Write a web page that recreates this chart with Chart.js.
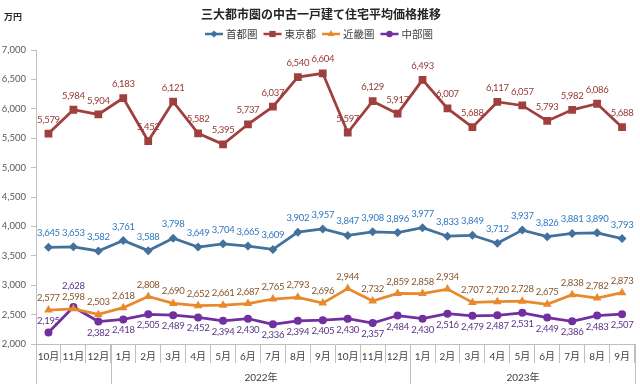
<!DOCTYPE html>
<html>
<head>
<meta charset="utf-8">
<script src="https://cdn.jsdelivr.net/npm/chart.js@4"></script>
<style>
  html, body { margin: 0; padding: 0; background: #fff; }
  #chart { display: block; }
</style>
</head>
<body>
<canvas id="chart" width="640" height="391"></canvas>
<script>
// ---- data ----
const chartTitle = '三大都市圏の中古一戸建て住宅平均価格推移';
const unitLabel = '万円';
const months = ['10月', '11月', '12月', '1月', '2月', '3月', '4月', '5月', '6月', '7月', '8月', '9月',
    '10月', '11月', '12月', '1月', '2月', '3月', '4月', '5月', '6月', '7月', '8月', '9月'];
// [label, first index, last index]
const yearGroups = [['', 0, 2], ['2022年', 3, 14], ['2023年', 15, 23]];
const yTicks = { min: 2000, max: 7000, step: 500 };

const shutoken = [3645, 3653, 3582, 3761, 3588, 3798, 3649, 3704, 3665, 3609, 3902, 3957,
    3847, 3908, 3896, 3977, 3833, 3849, 3712, 3937, 3826, 3881, 3890, 3793];
const tokyo = [5579, 5984, 5904, 6183, 5452, 6121, 5582, 5395, 5737, 6037, 6540, 6604,
    5597, 6129, 5917, 6493, 6007, 5688, 6117, 6057, 5793, 5982, 6086, 5688];
const kinki = [2577, 2598, 2503, 2618, 2808, 2690, 2652, 2661, 2687, 2765, 2793, 2696,
    2944, 2732, 2859, 2858, 2934, 2707, 2720, 2728, 2675, 2838, 2782, 2873];
const chubu = [2195, 2628, 2382, 2418, 2505, 2489, 2452, 2394, 2430, 2336, 2394, 2405,
    2430, 2357, 2484, 2430, 2516, 2479, 2487, 2531, 2449, 2386, 2483, 2507];

// 中部圏 labels sit below the point except these (index -> offset)
const chubuAbove = { 0: -12, 1: -21 };

const FONT = '"Noto Sans CJK JP", "Noto Sans", sans-serif';
// latin face for numbers, CJK falls back
const NUM_FONT = 'Lato, "Noto Sans CJK JP", sans-serif';
const GRID = '#bfbfbf';

const series = [
    { label: '首都圏', data: shutoken, color: '#41719c', text: '#2f78bf', style: 'rectRot', radius: 4.5, offset: () => -14 },
    { label: '東京都', data: tokyo, color: '#a0403e', text: '#953735', style: 'rect', radius: 5.5, offset: () => -14 },
    { label: '近畿圏', data: kinki, color: '#e8892c', text: '#84562a', style: 'triangle', radius: 5, offset: () => -12 },
    { label: '中部圏', data: chubu, color: '#7030a0', text: '#5c3287', style: 'circle', radius: 4, offset: i => (i in chubuAbove ? chubuAbove[i] : 11) }
];

// small marker drawer for the legend
function drawMarker(ctx, style, x, y, r, color) {
    ctx.save();
    ctx.fillStyle = color;
    ctx.beginPath();
    if (style === 'rect') {
        const s = r * Math.SQRT1_2;
        ctx.rect(x - s, y - s, 2 * s, 2 * s);
    } else if (style === 'rectRot') {
        ctx.moveTo(x - r, y); ctx.lineTo(x, y - r); ctx.lineTo(x + r, y); ctx.lineTo(x, y + r);
        ctx.closePath();
    } else if (style === 'triangle') {
        ctx.moveTo(x, y - r); ctx.lineTo(x + r * 0.87, y + r * 0.5); ctx.lineTo(x - r * 0.87, y + r * 0.5);
        ctx.closePath();
    } else {
        ctx.arc(x, y, r, 0, Math.PI * 2);
    }
    ctx.fill();
    ctx.restore();
}

// title, unit, legend, year groups and value labels
const decorPlugin = {
    id: 'decor',
    afterDraw(chart) {
        const ctx = chart.ctx;
        const xs = chart.scales.x;
        const area = chart.chartArea;
        ctx.save();

        // title
        ctx.fillStyle = '#262626';
        ctx.font = `bold 12px ${FONT}`;
        ctx.textAlign = 'center';
        ctx.textBaseline = 'middle';
        ctx.fillText(chartTitle, 321, 14);

        // unit
        ctx.font = `bold 9px ${FONT}`;
        ctx.fillText(unitLabel, 13, 17);

        // legend
        ctx.font = `10.5px ${FONT}`;
        const lineW = 18, gap = 3, itemGap = 6;
        const widths = series.map(s => lineW + gap + ctx.measureText(s.label).width);
        const total = widths.reduce((a, b) => a + b, 0) + itemGap * (series.length - 1);
        let lx = 319 - total / 2;
        const ly = 34;
        series.forEach((s, i) => {
            ctx.strokeStyle = s.color;
            ctx.lineWidth = 2.5;
            ctx.beginPath();
            ctx.moveTo(lx, ly);
            ctx.lineTo(lx + lineW, ly);
            ctx.stroke();
            drawMarker(ctx, s.style, lx + lineW / 2, ly, s.radius * 0.8, s.color);
            ctx.fillStyle = '#404040';
            ctx.textAlign = 'left';
            ctx.fillText(s.label, lx + lineW + gap, ly + 0.5);
            lx += widths[i] + itemGap;
        });

        // year groups under month labels
        const half = (xs.getPixelForValue(1) - xs.getPixelForValue(0)) / 2;
        const yTop = area.bottom;
        const yBot = 384;
        ctx.strokeStyle = GRID;
        ctx.lineWidth = 1;
        ctx.font = `10px ${NUM_FONT}`;
        ctx.fillStyle = '#404040';
        ctx.textAlign = 'center';
        yearGroups.forEach(([label, a, b], gi) => {
            const x0 = Math.round(xs.getPixelForValue(a) - half) + 0.5;
            const x1 = Math.round(xs.getPixelForValue(b) + half) + 0.5;
            ctx.beginPath();
            ctx.moveTo(x0, yTop);
            ctx.lineTo(x0, yBot);
            if (gi === yearGroups.length - 1) {
                ctx.moveTo(x1, yTop);
                ctx.lineTo(x1, yBot);
            }
            ctx.stroke();
            if (label) ctx.fillText(label, (x0 + x1) / 2, 378);
        });

        // value labels
        ctx.font = `9.5px ${NUM_FONT}`;
        ctx.letterSpacing = '-0.3px';
        ctx.textAlign = 'center';
        ctx.textBaseline = 'middle';
        chart.data.datasets.forEach((ds, di) => {
            const s = series[di];
            chart.getDatasetMeta(di).data.forEach((pt, i) => {
                ctx.fillStyle = s.text;
                ctx.fillText(ds.data[i].toLocaleString('en-US'), pt.x, pt.y + s.offset(i));
            });
        });
        ctx.restore();
    }
};

new Chart(document.getElementById('chart'), {
    type: 'line',
    data: {
        labels: months,
        datasets: series.map(s => ({
            label: s.label,
            data: s.data,
            borderColor: s.color,
            backgroundColor: s.color,
            borderWidth: 2.75,
            pointStyle: s.style,
            pointRadius: s.radius,
            pointBorderWidth: 0,
            tension: 0
        }))
    },
    options: {
        responsive: false,
        animation: false,
        devicePixelRatio: 1,
        layout: { padding: { top: 50, right: 3, left: 0, bottom: 0 } },
        plugins: {
            legend: { display: false },
            title: { display: false },
            tooltip: { enabled: false }
        },
        scales: {
            x: {
                offset: true,
                grid: { offset: true, drawOnChartArea: false, drawTicks: true, tickLength: 19, color: GRID },
                border: { color: GRID },
                ticks: { padding: -12, color: '#404040', font: { family: NUM_FONT, size: 10 }, maxRotation: 0, autoSkip: false },
                afterFit: s => { s.height = 47; }
            },
            y: {
                min: yTicks.min,
                max: yTicks.max,
                ticks: {
                    stepSize: yTicks.step,
                    color: '#595959',
                    font: { family: NUM_FONT, size: 9.5 },
                    padding: 5,
                    callback: v => v.toLocaleString('en-US')
                },
                grid: { drawOnChartArea: false, tickLength: 5, color: GRID },
                border: { color: GRID },
                afterFit: s => { s.width = 36; }
            }
        }
    },
    plugins: [decorPlugin]
});
</script>
</body>
</html>
